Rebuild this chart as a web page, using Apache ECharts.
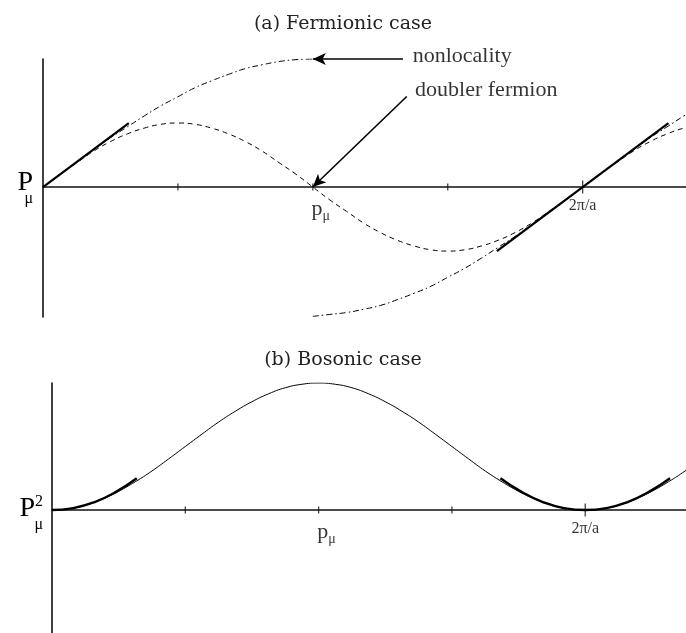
<!DOCTYPE html>
<html>
<head>
  <meta charset="utf-8">
  <style>
    html, body { margin: 0; padding: 0; width: 100%; height: 100%; background: #fff; overflow: hidden; }
    #container { width: 686px; height: 633px; }
  </style>
</head>
<body>
  <div id="container"></div>
  <script src="https://cdn.jsdelivr.net/npm/echarts@6/dist/echarts.min.js"></script>
  <script>
    // momentum in units of pi/a (2 = 2pi/a), sampled every pi/16
    var pos = [0, 0.0625, 0.125, 0.1875, 0.25, 0.3125, 0.375, 0.4375, 0.5, 0.5625, 0.625, 0.6875,
      0.75, 0.8125, 0.875, 0.9375, 1, 1.0625, 1.125, 1.1875, 1.25, 1.3125, 1.375, 1.4375,
      1.5, 1.5625, 1.625, 1.6875, 1.75, 1.8125, 1.875, 1.9375, 2, 2.0625, 2.125, 2.1875,
      2.25, 2.3125, 2.375, 2.4375, 2.5];

    // (a) lattice momentum, dashed curve
    var latticeP = [0, 0.2, 0.38, 0.56, 0.71, 0.83, 0.92, 0.98, 1, 0.98, 0.92, 0.83, 0.71,
      0.56, 0.38, 0.2, 0, -0.2, -0.38, -0.56, -0.71, -0.83, -0.92, -0.98, -1, -0.98, -0.92,
      -0.83, -0.71, -0.56, -0.38, -0.2, 0, 0.2, 0.38, 0.56, 0.71, 0.83, 0.92, 0.98, 1];
    // (a) nonlocal momentum, dash-dot curve, before and after the jump at p = pi/a
    var nonlocLow = [0, 0.2, 0.39, 0.58, 0.77, 0.94, 1.11, 1.27, 1.41, 1.55, 1.66, 1.76,
      1.85, 1.91, 1.96, 1.99, 2];
    var nonlocHigh = [-2.02, -1.99, -1.96, -1.91, -1.85, -1.76, -1.66, -1.55, -1.41, -1.27,
      -1.11, -0.94, -0.77, -0.58, -0.39, -0.2, 0, 0.2, 0.39, 0.58, 0.77, 0.94, 1.11, 1.27, 1.41];
    // (a) continuum P = p, thick straight pieces
    var contX0 = [0, 0.318];
    var contP0 = [0, 1];
    var contX2 = [1.682, 2.318];
    var contP2 = [-1, 1];

    // (b) bosonic P^2, solid curve
    var bosonP2 = [0, 0.04, 0.15, 0.34, 0.59, 0.89, 1.23, 1.61, 2, 2.39, 2.77, 3.11, 3.41,
      3.66, 3.85, 3.96, 4, 3.96, 3.85, 3.66, 3.41, 3.11, 2.77, 2.39, 2, 1.61, 1.23, 0.89,
      0.59, 0.34, 0.15, 0.04, 0, 0.04, 0.15, 0.34, 0.59, 0.89, 1.23, 1.61, 2];
    // (b) continuum P^2 = p^2, thick parabola pieces
    var parX0 = [0, 0.08, 0.16, 0.24, 0.318];
    var parP0 = [0, 0.06, 0.25, 0.57, 1];
    var parX2 = [1.682, 1.761, 1.841, 1.92, 2, 2.08, 2.159, 2.239, 2.318];
    var parP2 = [1, 0.57, 0.25, 0.06, 0, 0.06, 0.25, 0.57, 1];

    // tick marks and tick labels on the p axis
    var tickPos = [0.5, 1, 1.5, 2];
    var tickLabels = ['{p|p}{s|μ}', '{t|2π/a}'];
    var tickLabelPos = [1, 2];

    var serif = 'Liberation Serif';

    function pairs(xs, ys) {
      return xs.map(function (x, i) { return [x, ys[i]]; });
    }

    function curve(name, gi, data, width, type, smooth) {
      return {
        name: name,
        type: 'line',
        xAxisIndex: gi,
        yAxisIndex: gi,
        data: data,
        smooth: smooth,
        showSymbol: false,
        symbol: 'none',
        silent: true,
        lineStyle: { color: '#000', width: width, type: type }
      };
    }

    function ticks(gi) {
      return {
        type: 'scatter', xAxisIndex: gi, yAxisIndex: gi, silent: true,
        symbol: 'rect', itemStyle: { color: '#111' },
        data: tickPos.map(function (x) {
          return { value: [x, 0], symbolSize: x === 2 ? [1.3, 13] : [1.3, 7] };
        })
      };
    }

    function tickText(gi) {
      return {
        type: 'scatter', xAxisIndex: gi, yAxisIndex: gi, silent: true, symbolSize: 0,
        label: {
          show: true, position: 'bottom', distance: 11,
          formatter: function (p) { return tickLabels[p.dataIndex]; },
          rich: {
            p: { fontFamily: serif, fontSize: 22, color: '#000', verticalAlign: 'top' },
            s: { fontFamily: serif, fontSize: 14, color: '#000', verticalAlign: 'top', padding: [11, 0, 0, 0] },
            t: { fontFamily: serif, fontSize: 16, color: '#000' }
          }
        },
        data: tickLabelPos.map(function (x, i) {
          return { value: [x, 0], label: { offset: i === 0 ? [8, 0] : [0, 0] } };
        })
      };
    }

    function xAxisOpt(gi, max) {
      return {
        type: 'value',
        gridIndex: gi,
        min: 0,
        max: max,
        interval: 0.5,
        axisLine: { onZero: true, lineStyle: { color: '#111', width: 1.6 } },
        axisTick: { show: false },
        axisLabel: { show: false },
        splitLine: { show: false }
      };
    }

    function yAxisOpt(gi, min, max, name, gap, rich) {
      return {
        type: 'value',
        gridIndex: gi,
        min: min,
        max: max,
        name: name,
        nameLocation: 'middle',
        nameRotate: 0,
        nameGap: gap,
        nameTextStyle: { rich: rich },
        axisLine: { show: true, onZero: false, lineStyle: { color: '#111', width: 1.6 } },
        axisTick: { show: false },
        axisLabel: { show: false },
        splitLine: { show: false }
      };
    }

    var richTop = {
      P: { fontFamily: serif, fontSize: 28, color: '#000', lineHeight: 22 },
      s: { fontFamily: serif, fontSize: 16, color: '#000', lineHeight: 10 }
    };
    var richBottom = {
      P: { fontFamily: serif, fontSize: 28, color: '#000', lineHeight: 30 },
      u: { fontFamily: serif, fontSize: 16, color: '#000', lineHeight: 4, verticalAlign: 'top' },
      s: { fontFamily: serif, fontSize: 16, color: '#000', lineHeight: 2 }
    };

    var chart = echarts.init(document.getElementById('container'));

    var lattice = curve('lattice', 0, pairs(pos, latticeP), 1, [5, 4], true);
    // arrows pointing at the jump and at the doubler zero
    lattice.markLine = {
      silent: true,
      animation: false,
      symbol: ['none', 'arrow'],
      symbolSize: [9, 13],
      label: { show: false },
      lineStyle: { color: '#000', width: 1.6, type: 'solid' },
      data: [
        [{ coord: [1.334, 2.0] }, { coord: [1.0, 2.0] }],
        [{ coord: [1.348, 1.415] }, { coord: [1.0, 0] }]
      ]
    };

    chart.setOption({
      animation: false,
      backgroundColor: '#fff',
      title: [
        { text: '(a) Fermionic case', left: 'center', top: 10,
          textStyle: { fontFamily: 'DejaVu Serif', fontWeight: 'normal', fontSize: 19, color: '#222' } },
        { text: '(b) Bosonic case', left: 'center', top: 346,
          textStyle: { fontFamily: 'DejaVu Serif', fontWeight: 'normal', fontSize: 19, color: '#222' } }
      ],
      grid: [
        { left: 43, right: 0, top: 59, height: 258, outerBoundsMode: 'none' },
        { left: 52, right: 0, top: 383, height: 254, outerBoundsMode: 'none' }
      ],
      xAxis: [xAxisOpt(0, 2.383), xAxisOpt(1, 2.378)],
      yAxis: [
        yAxisOpt(0, -2.03, 2, '{P|P}\n{s|μ}', 10, richTop),
        yAxisOpt(1, -4, 4, '{P|P}{u|2}\n{s|μ}', 9, richBottom)
      ],
      series: [
        lattice,
        curve('nonlocal-low', 0, pairs(pos.slice(0, 17), nonlocLow), 1, [6, 3, 1.5, 3], true),
        curve('nonlocal-high', 0, pairs(pos.slice(16), nonlocHigh), 1, [6, 3, 1.5, 3], true),
        curve('cont0', 0, pairs(contX0, contP0), 2.2, 'solid', false),
        curve('cont2', 0, pairs(contX2, contP2), 2.2, 'solid', false),
        ticks(0),
        tickText(0),
        {
          type: 'scatter', xAxisIndex: 0, yAxisIndex: 0, silent: true, symbolSize: 0,
          label: {
            show: true, position: 'right', distance: 0, formatter: '{b}',
            fontFamily: serif, fontSize: 22, color: '#000'
          },
          data: [
            { name: 'nonlocality', value: [1.37, 1.99], label: { offset: [0, -3] } },
            { name: 'doubler fermion', value: [1.379, 1.505] }
          ]
        },
        curve('boson', 1, pairs(pos, bosonP2), 1, 'solid', true),
        curve('par0', 1, pairs(parX0, parP0), 2.4, 'solid', true),
        curve('par2', 1, pairs(parX2, parP2), 2.4, 'solid', true),
        ticks(1),
        tickText(1)
      ]
    });
  </script>
</body>
</html>
